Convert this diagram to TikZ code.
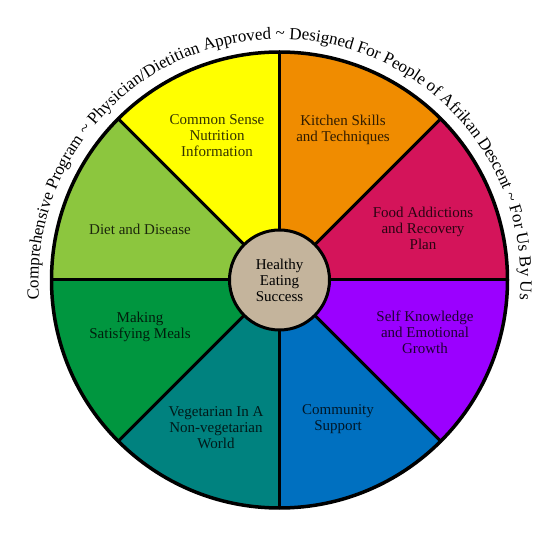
\documentclass[tikz,border=0pt]{standalone}
\usepackage{fontspec}
\setmainfont{Liberation Serif}
\usetikzlibrary{decorations.text}
\definecolor{cyel}{HTML}{FFFF00}
\definecolor{corange}{HTML}{F08C00}
\definecolor{ccrim}{HTML}{D4145A}
\definecolor{cpurple}{HTML}{9B00FF}
\definecolor{cblue}{HTML}{0070C0}
\definecolor{cteal}{HTML}{00827F}
\definecolor{cgreen}{HTML}{00963F}
\definecolor{cygreen}{HTML}{8CC63E}
\definecolor{ctan}{HTML}{C4B49C}
\begin{document}
\begin{tikzpicture}[x=1pt,y=1pt,
  lbl/.style={align=center, font=\fontsize{15}{16}\selectfont, text=black, text opacity=0.8},
  divider/.style={line width=3pt, line cap=round},
  rim/.style={line width=3.5pt}]
\useasboundingbox (0,0) rectangle (560,560);
\fill[white] (0,0) rectangle (560,560);
\coordinate (c) at (279.5,280);
\foreach \a/\col in {0/ccrim,45/corange,90/cyel,135/cygreen,180/cgreen,225/cteal,270/cblue,315/cpurple}{
  \fill[\col] (c) -- ++(\a:228) arc[start angle=\a, end angle=\a+45, radius=228] -- cycle;
}
\foreach \a in {0,45,...,315}{
  \draw[divider] (c) -- ++(\a:228);
}
\draw[rim] (c) circle[radius=228];
\node[circle, fill=ctan, draw, line width=3pt, minimum size=100pt, inner sep=0pt, align=center, font=\fontsize{15}{16}\selectfont] (hub) at (c) {Healthy\\Eating\\Success};
\node[lbl] (common) at (217,424) {Common Sense\\Nutrition\\Information};
\node[lbl] (kitchen) at (343,430) {Kitchen Skills\\and Techniques};
\node[lbl] (food) at (423,332) {Food Addictions\\and Recovery\\Plan};
\node[lbl] (diet) at (140,331) {Diet and Disease};
\node[lbl] (making) at (140,233) {Making\\Satisfying Meals};
\node[lbl] (veg) at (216,132) {Vegetarian In A\\Non-vegetarian\\World};
\node[lbl] (self) at (425,228) {Self Knowledge\\and Emotional\\Growth};
\node[lbl] (community) at (338,141) {Community\\Support};
\path[decorate, decoration={text along path, text align=center,
  text={|\fontsize{17}{17}\selectfont|Comprehensive Program {\textasciitilde} Physician/Dietitian Approved {\textasciitilde} Designed For People of Afrikan Descent {\textasciitilde} For Us By Us}}]
  (c) ++(184:241) arc[start angle=184, end angle=-4, radius=241];
\end{tikzpicture}
\end{document}
